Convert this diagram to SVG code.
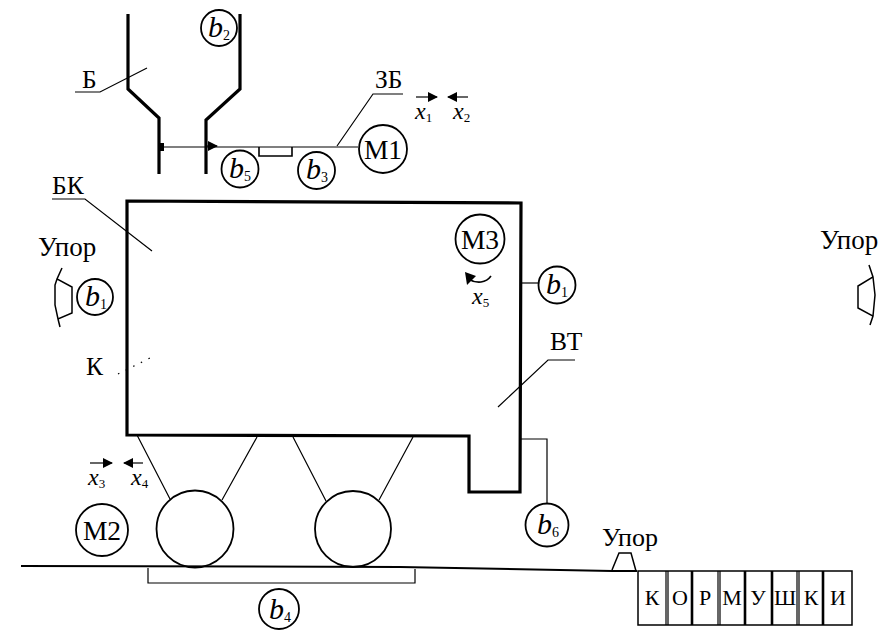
<svg xmlns="http://www.w3.org/2000/svg" width="878" height="631" viewBox="0 0 878 631">
<style>
text{font-family:"Liberation Serif","Times New Roman",serif;fill:#000}
.l{font-size:25.5px}.u{font-size:27px}.m{font-size:27.5px;text-anchor:middle}.k{font-size:22px;text-anchor:middle}
.b{font-size:30px;font-style:italic}.bs{font-size:14px;font-style:normal}
.x{font-size:24px;font-style:italic}.xs{font-size:13px;font-style:normal}
.t{fill:none;stroke:#000;stroke-width:1.2}.h{fill:none;stroke:#000;stroke-width:3.2}.n{fill:none;stroke:#000;stroke-width:2}
.c{fill:#fff;stroke:#000;stroke-width:1.8}.a{fill:#000;stroke:none}
</style>
<defs>
<marker id="ah" markerWidth="10" markerHeight="10" refX="9" refY="5" orient="auto" markerUnits="userSpaceOnUse"><path d="M0 0L10 5L0 10Z"/></marker>
</defs>
<g id="connectors">
<path class="t" d="M75 92H100L147 68"/>
<path class="t" d="M403 94H373L337 146"/>
<path class="t" d="M52 199H85L152 251"/>
<path class="t" d="M575 360H548L498 407"/>
<path class="t" d="M118 374L150 358" stroke-dasharray="1.5 7"/>
<path class="t" d="M160 147H358"/>
<path class="t" d="M259 147V156H292V147" style="stroke-width:1.6"/>
<path class="t" d="M521 283H538"/>
<path class="t" d="M521 439H547V503"/>
<path class="t" d="M137 435L170 499M257 437L222 500M293 437L326 501M413 437L379 500"/>
<path class="t" d="M148 568V583H415V569"/>
<path class="t" d="M416 97H437" marker-end="url(#ah)"/>
<path class="t" d="M468 97H448" marker-end="url(#ah)"/>
<path class="t" d="M90 463H112" marker-end="url(#ah)"/>
<path class="t" d="M143 463H124" marker-end="url(#ah)"/>
<path class="t" d="M206 146H217" marker-end="url(#ah)"/>
<path class="t" d="M491 276C486 283 477 284 468 279" style="stroke-width:1.6"/>
<path class="a" d="M465 272L476 276L467 285Z"/>
</g>
<g id="hopper">
<path class="h" d="M128 14V89L159 118V174"/>
<path class="h" d="M240 14V89L206 120V174"/>
<path class="a" d="M159 143H164V151H159Z"/>
<text class="l" x="82" y="88">Б</text>
</g>
<g id="zb"><text class="l" x="375" y="88">ЗБ</text></g>
<g id="body">
<path class="h" d="M127 201L521 203L520 492H469V436L127 435Z"/>
<text class="l" x="52" y="194">БК</text>
<text class="l" x="86" y="375">К</text>
<text class="l" x="550" y="350">ВТ</text>
</g>
<g id="wheel1"><circle class="c" cx="195" cy="529" r="38.5"/></g>
<g id="wheel2"><circle class="c" cx="353" cy="529" r="38"/></g>
<g id="rail"><path class="n" d="M21 566L400 567L612 571H637"/></g>
<g id="M1"><circle class="c" cx="383" cy="149" r="24"/><text class="m" x="383" y="159">М1</text></g>
<g id="M2"><circle class="c" cx="102" cy="530" r="26"/><text class="m" x="102" y="540">М2</text></g>
<g id="M3"><circle class="c" cx="480" cy="239" r="24.5"/><text class="m" x="480" y="249">М3</text></g>
<g id="b2"><circle class="c" cx="219" cy="28" r="18"/><text class="b" x="208" y="37">b<tspan class="bs" dy="3">2</tspan></text></g>
<g id="b5"><circle class="c" cx="240" cy="169" r="18.5"/><text class="b" x="229" y="178">b<tspan class="bs" dy="3">5</tspan></text></g>
<g id="b3"><circle class="c" cx="316.5" cy="170.5" r="18.5"/><text class="b" x="306" y="179">b<tspan class="bs" dy="3">3</tspan></text></g>
<g id="b1"><circle class="c" cx="95" cy="297" r="18"/><text class="b" x="85" y="306">b<tspan class="bs" dy="3">1</tspan></text></g>
<g id="b7"><circle class="c" cx="557" cy="285" r="18.5"/><text class="b" x="546" y="294">b<tspan class="bs" dy="3">1</tspan></text></g>
<g id="b6"><circle class="c" cx="547" cy="525" r="21.5"/><text class="b" x="537" y="534">b<tspan class="bs" dy="3">6</tspan></text></g>
<g id="b4"><circle class="c" cx="279" cy="609" r="20"/><text class="b" x="269" y="619">b<tspan class="bs" dy="3">4</tspan></text></g>
<g id="x-labels">
<text class="x" x="415" y="119">x<tspan class="xs" dy="3">1</tspan></text>
<text class="x" x="453" y="119">x<tspan class="xs" dy="3">2</tspan></text>
<text class="x" x="88" y="485">x<tspan class="xs" dy="3">3</tspan></text>
<text class="x" x="131" y="485">x<tspan class="xs" dy="3">4</tspan></text>
<text class="x" x="472" y="304">x<tspan class="xs" dy="3">5</tspan></text>
</g>
<g id="stop-left">
<path class="t" d="M62 268L57 279L72 287V313L58 319L55 305V285L57 279M58 319L60 327" style="stroke-width:1.5"/>
<text class="u" x="38" y="256">Упор</text>
</g>
<g id="stop-right">
<path class="t" d="M869 265L873 277L858 286V308L873 316L870 325M873 277L875 295L873 316" style="stroke-width:1.5"/>
<text class="u" x="820" y="249">Упор</text>
</g>
<g id="stop-bottom">
<path class="t" d="M612 570L619 553H631L636 571" style="stroke-width:1.5"/>
<text class="u" x="602" y="546" style="font-size:26px">Упор</text>
</g>
<g id="feeders">
<path class="t" d="M638 571H852V625H638Z" style="stroke-width:1.5"/>
<path class="t" d="M666 571V625M668 571V625M692 571V625M718 571V625M720 571V625M772 571V625M797 571V625M799 571V625" style="stroke-width:1.2"/>
<path class="h" d="M692 571V625M745 571V625M772 571V625M823 571V625" style="stroke-width:2.6"/>
<text class="k" x="652" y="605">К</text>
<text class="k" x="680" y="605">О</text>
<text class="k" x="705" y="605">Р</text>
<text class="k" x="732" y="605">М</text>
<text class="k" x="758" y="605">У</text>
<text class="k" x="785" y="605">Ш</text>
<text class="k" x="811" y="605">К</text>
<text class="k" x="838" y="605">И</text>
</g>
</svg>
